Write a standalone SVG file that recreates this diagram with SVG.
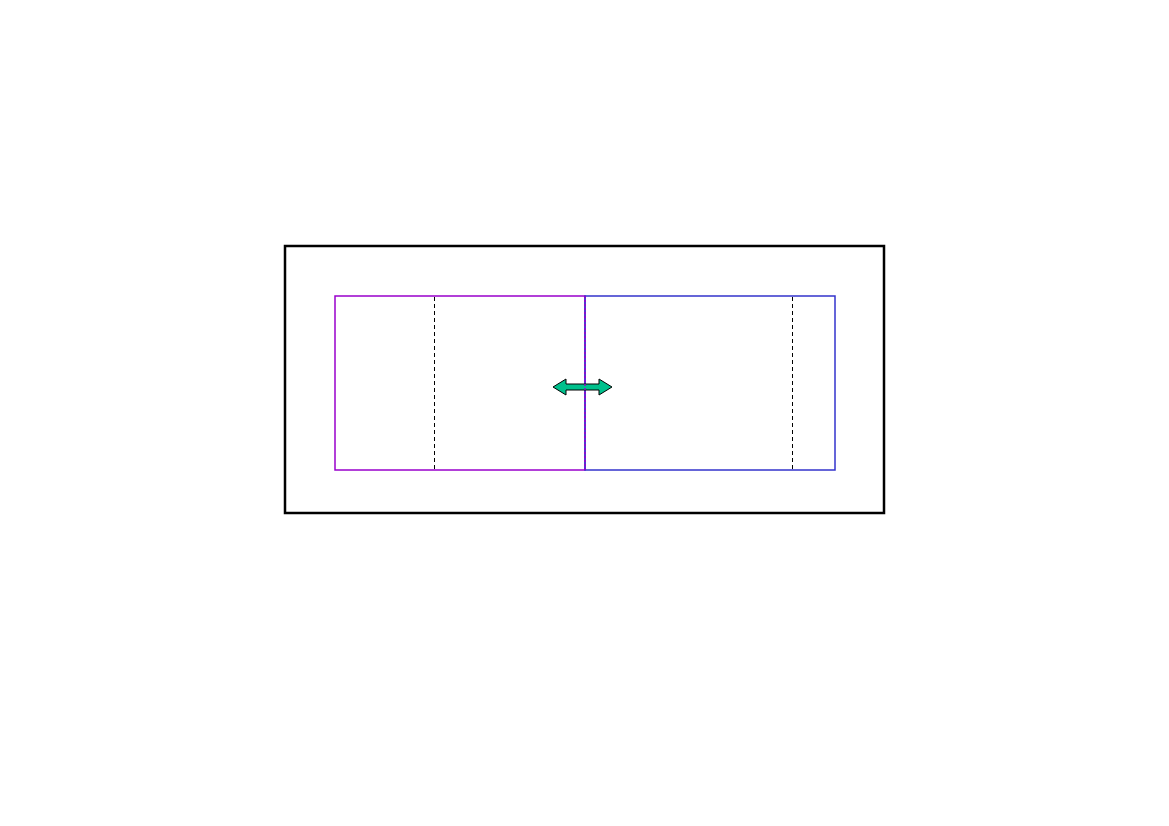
<svg xmlns="http://www.w3.org/2000/svg" width="1169" height="826" viewBox="0 0 1169 826">
<style>
.dash{stroke:#000;stroke-width:1;stroke-dasharray:4,3;fill:none}
</style>
<rect width="1169" height="826" fill="#fff"/>
<g id="outer"><rect x="285" y="246" width="599" height="267" fill="none" stroke="#000" stroke-width="2.5"/></g>
<g id="left-box">
<rect x="335" y="296" width="250" height="174" fill="none" stroke="#9900CC" stroke-width="1.5"/>
<line class="dash" x1="434.5" y1="297" x2="434.5" y2="469"/>
</g>
<g id="right-box">
<rect x="585" y="296" width="250" height="174" fill="none" stroke="#3333CC" stroke-width="1.5"/>
<line class="dash" x1="792.5" y1="297" x2="792.5" y2="469"/>
</g>
<line x1="585" y1="296" x2="585" y2="470" stroke="#9900CC" stroke-width="1.5" stroke-dasharray="2,2"/>
<g id="connectors">
<path d="M553,387 L566,379 L566,384 L599,384 L599,379 L612,387 L599,395 L599,390 L566,390 L566,395 Z" fill="#00C08C" stroke="#000" stroke-width="1"/>
<line x1="585" y1="384" x2="585" y2="390" stroke="#9900CC" stroke-width="1.5" stroke-dasharray="2,2"/>
</g>
</svg>
